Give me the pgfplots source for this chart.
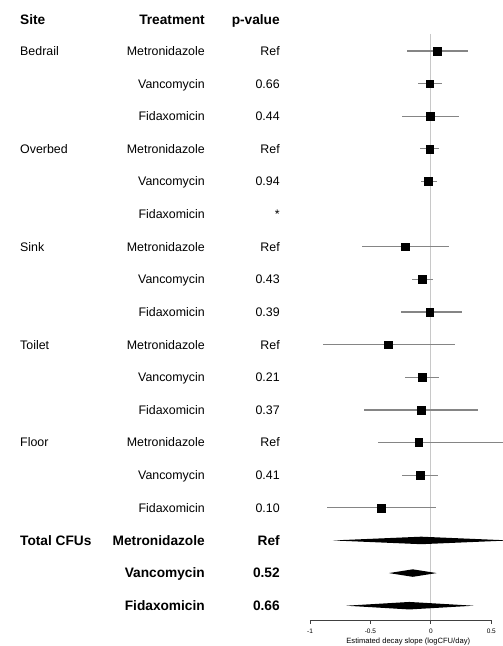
\documentclass[border=0pt]{standalone}
\usepackage{fontspec}
\setmainfont{Liberation Sans}
\usepackage{pgfplots}
\usepackage{pgfplotstable}
\pgfplotsset{compat=1.18}
\definecolor{cigray}{HTML}{858585}
\definecolor{zerogray}{HTML}{C8C8C8}
\pgfplotstableread{
r est lo hi
1 0.05 -0.20 0.31
2 -0.01 -0.11 0.09
3 -0.005 -0.24 0.23
4 -0.01 -0.09 0.07
5 -0.02 -0.08 0.05
7 -0.21 -0.57 0.15
8 -0.07 -0.16 0.02
9 -0.01 -0.25 0.26
10 -0.35 -0.89 0.20
11 -0.07 -0.21 0.07
12 -0.08 -0.55 0.39
13 -0.10 -0.44 0.70
14 -0.09 -0.24 0.06
15 -0.41 -0.86 0.04
}\sites
\newcommand{\fs}{\fontsize{12.4}{14}\selectfont}
\newcommand{\fb}{\fontsize{13.7}{15}\selectfont\bfseries}
\tikzset{
  sitec/.style={anchor=base west, yshift=-4.4pt, font=\fs},
  trt/.style={anchor=base east, yshift=-4.4pt, font=\fs},
  hsite/.style={anchor=base west, yshift=-4.8pt, font=\fb},
  htrt/.style={anchor=base east, yshift=-4.8pt, font=\fb},
}
\begin{document}
\begin{tikzpicture}
\begin{axis}[
  x=120.9pt, y=32.63pt,
  xmin=-1, xmax=0.5, ymin=-18.45, ymax=-0.479,
  axis x line*=bottom, axis y line=none,
  clip=false,
  xtick={-1,-0.5,0,0.5},
  xticklabels={-1,-0.5,0,0.5},
  tick align=outside,
  major tick length=3.5pt,
  x axis line style={draw=black!75, line width=0.9pt},
  tick style={draw=black!75, line width=0.9pt},
  ticklabel style={font=\fontsize{6.5}{7}\selectfont},
  xticklabel style={yshift=-1.5pt},
  /pgf/number format/assume math mode=true,
]
% zero line
\addplot[zerogray, line width=1.2pt] coordinates {(0,-0.479) (0,-18.45)};
% whiskers
\addplot[only marks, mark=none,
  error bars/.cd, x dir=both, x explicit, error mark=none,
  error bar style={draw=cigray, line width=1.2pt}]
  table[x=est, y expr=-\thisrow{r},
        x error plus expr=\thisrow{hi}-\thisrow{est},
        x error minus expr=\thisrow{est}-\thisrow{lo}] {\sites};
% squares
\addplot[only marks, mark=square*, mark size=3.9pt, black]
  table[x=est, y expr=-\thisrow{r}] {\sites};
% diamonds (Total CFUs)
\addplot[fill=black, draw=none] coordinates {(-0.81,-16) (-0.08,-15.885) (0.65,-16) (-0.08,-16.115)} -- cycle;
\addplot[fill=black, draw=none] coordinates {(-0.347,-17) (-0.15,-16.885) (0.048,-17) (-0.15,-17.115)} -- cycle;
\addplot[fill=black, draw=none] coordinates {(-0.70,-18) (-0.178,-17.885) (0.354,-18) (-0.178,-18.115)} -- cycle;

% headers
\node[hsite] at (axis cs:-3.426,-0.041) {Site};
\node[htrt] at (axis cs:-1.841,-0.041) {Treatment};
\node[htrt] at (axis cs:-1.221,-0.041) {p-value};

% site names
\node[sitec] at (axis cs:-3.426,-1) {Bedrail};
\node[sitec] at (axis cs:-3.426,-4) {Overbed};
\node[sitec] at (axis cs:-3.426,-7) {Sink};
\node[sitec] at (axis cs:-3.426,-10) {Toilet};
\node[sitec] at (axis cs:-3.426,-13) {Floor};

% treatments
\node[trt] at (axis cs:-1.841,-1) {Metronidazole};
\node[trt] at (axis cs:-1.841,-2) {Vancomycin};
\node[trt] at (axis cs:-1.841,-3) {Fidaxomicin};
\node[trt] at (axis cs:-1.841,-4) {Metronidazole};
\node[trt] at (axis cs:-1.841,-5) {Vancomycin};
\node[trt] at (axis cs:-1.841,-6) {Fidaxomicin};
\node[trt] at (axis cs:-1.841,-7) {Metronidazole};
\node[trt] at (axis cs:-1.841,-8) {Vancomycin};
\node[trt] at (axis cs:-1.841,-9) {Fidaxomicin};
\node[trt] at (axis cs:-1.841,-10) {Metronidazole};
\node[trt] at (axis cs:-1.841,-11) {Vancomycin};
\node[trt] at (axis cs:-1.841,-12) {Fidaxomicin};
\node[trt] at (axis cs:-1.841,-13) {Metronidazole};
\node[trt] at (axis cs:-1.841,-14) {Vancomycin};
\node[trt] at (axis cs:-1.841,-15) {Fidaxomicin};

% p-values
\node[trt] at (axis cs:-1.221,-1) {Ref};
\node[trt] at (axis cs:-1.221,-2) {0.66};
\node[trt] at (axis cs:-1.221,-3) {0.44};
\node[trt] at (axis cs:-1.221,-4) {Ref};
\node[trt] at (axis cs:-1.221,-5) {0.94};
\node[trt] at (axis cs:-1.221,-6) {*};
\node[trt] at (axis cs:-1.221,-7) {Ref};
\node[trt] at (axis cs:-1.221,-8) {0.43};
\node[trt] at (axis cs:-1.221,-9) {0.39};
\node[trt] at (axis cs:-1.221,-10) {Ref};
\node[trt] at (axis cs:-1.221,-11) {0.21};
\node[trt] at (axis cs:-1.221,-12) {0.37};
\node[trt] at (axis cs:-1.221,-13) {Ref};
\node[trt] at (axis cs:-1.221,-14) {0.41};
\node[trt] at (axis cs:-1.221,-15) {0.10};

% totals
\node[hsite] at (axis cs:-3.426,-16) {Total CFUs};
\node[htrt] at (axis cs:-1.841,-16) {Metronidazole};
\node[htrt] at (axis cs:-1.841,-17) {Vancomycin};
\node[htrt] at (axis cs:-1.841,-18) {Fidaxomicin};
\node[htrt] at (axis cs:-1.221,-16) {Ref};
\node[htrt] at (axis cs:-1.221,-17) {0.52};
\node[htrt] at (axis cs:-1.221,-18) {0.66};

% x label
\node[font=\fontsize{7.6}{8}\selectfont] at (axis cs:-0.187,-19.1) {Estimated decay slope (logCFU/day)};

\coordinate (BL) at (axis cs:-3.564,-19.235);
\coordinate (TR) at (axis cs:0.596,0.563);
\end{axis}
\pgfresetboundingbox
\useasboundingbox (BL) rectangle (TR);
\end{tikzpicture}
\end{document}
